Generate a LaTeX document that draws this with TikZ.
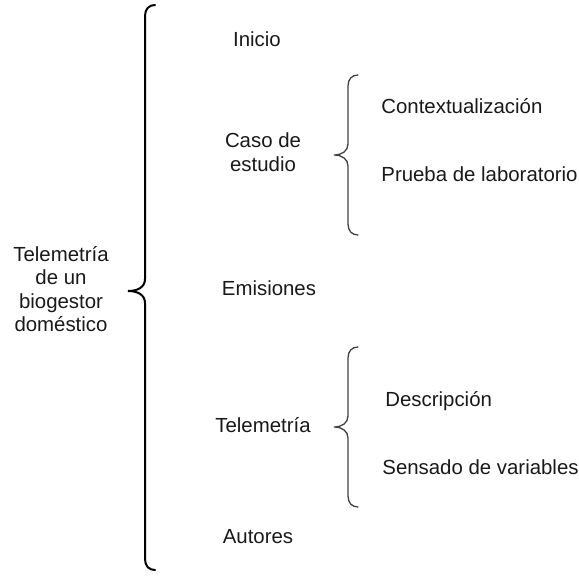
\documentclass[tikz,border=0pt]{standalone}
\usepackage{fontspec}
\setmainfont{Liberation Sans}
\usepackage{tikz}

\tikzset{
  item/.style={inner sep=0pt, align=center, text=black!90,
    font=\fontsize{10.2}{11.8}\selectfont},
  subitem/.style={item, anchor=west},
  bigbrace/.style={line width=1pt, black, line cap=round},
  smallbrace/.style={line width=0.65pt, black!75, line cap=round}
}

\begin{document}
\begin{tikzpicture}[x=0.5pt,y=-0.5pt]
\useasboundingbox (0,0) rectangle (579,575);
% main brace
\draw[bigbrace] (155,5) .. controls (149,5) and (145,9) .. (145,16) -- (145,279)
  .. controls (145,287) and (138,291) .. (128,291) .. controls (138,291) and (145,295) .. (145,303)
  -- (145,559) .. controls (145,566) and (149,570) .. (155,570);
% sub braces
\draw[smallbrace] (358,75) .. controls (352,75) and (348,79) .. (348,86) -- (348,144)
  .. controls (348,151) and (342,155) .. (334,155) .. controls (342,155) and (348,159) .. (348,166)
  -- (348,224) .. controls (348,231) and (352,235) .. (358,235);
\draw[smallbrace] (358,347) .. controls (352,347) and (348,351) .. (348,358) -- (348,416)
  .. controls (348,423) and (342,427) .. (334,427) .. controls (342,427) and (348,431) .. (348,438)
  -- (348,496) .. controls (348,503) and (352,507) .. (358,507);

\node[item] (root) at (61,289) {Telemetría\\de un\\biogestor\\doméstico};

\node[item] (inicio) at (257,39) {Inicio};
\node[item] (caso) at (263,152) {Caso de\\estudio};
\node[item] (emis) at (269,288) {Emisiones};
\node[item] (tele) at (263,425) {Telemetría};
\node[item] (autores) at (258,537) {Autores};

\node[subitem] (contexto) at (381,106) {Contextualización};
\node[subitem] (prueba) at (381,174) {Prueba de laboratorio};
\node[subitem] (descr) at (385,401) {Descripción};
\node[subitem] (sensado) at (382,467) {Sensado de variables};
\end{tikzpicture}
\end{document}
